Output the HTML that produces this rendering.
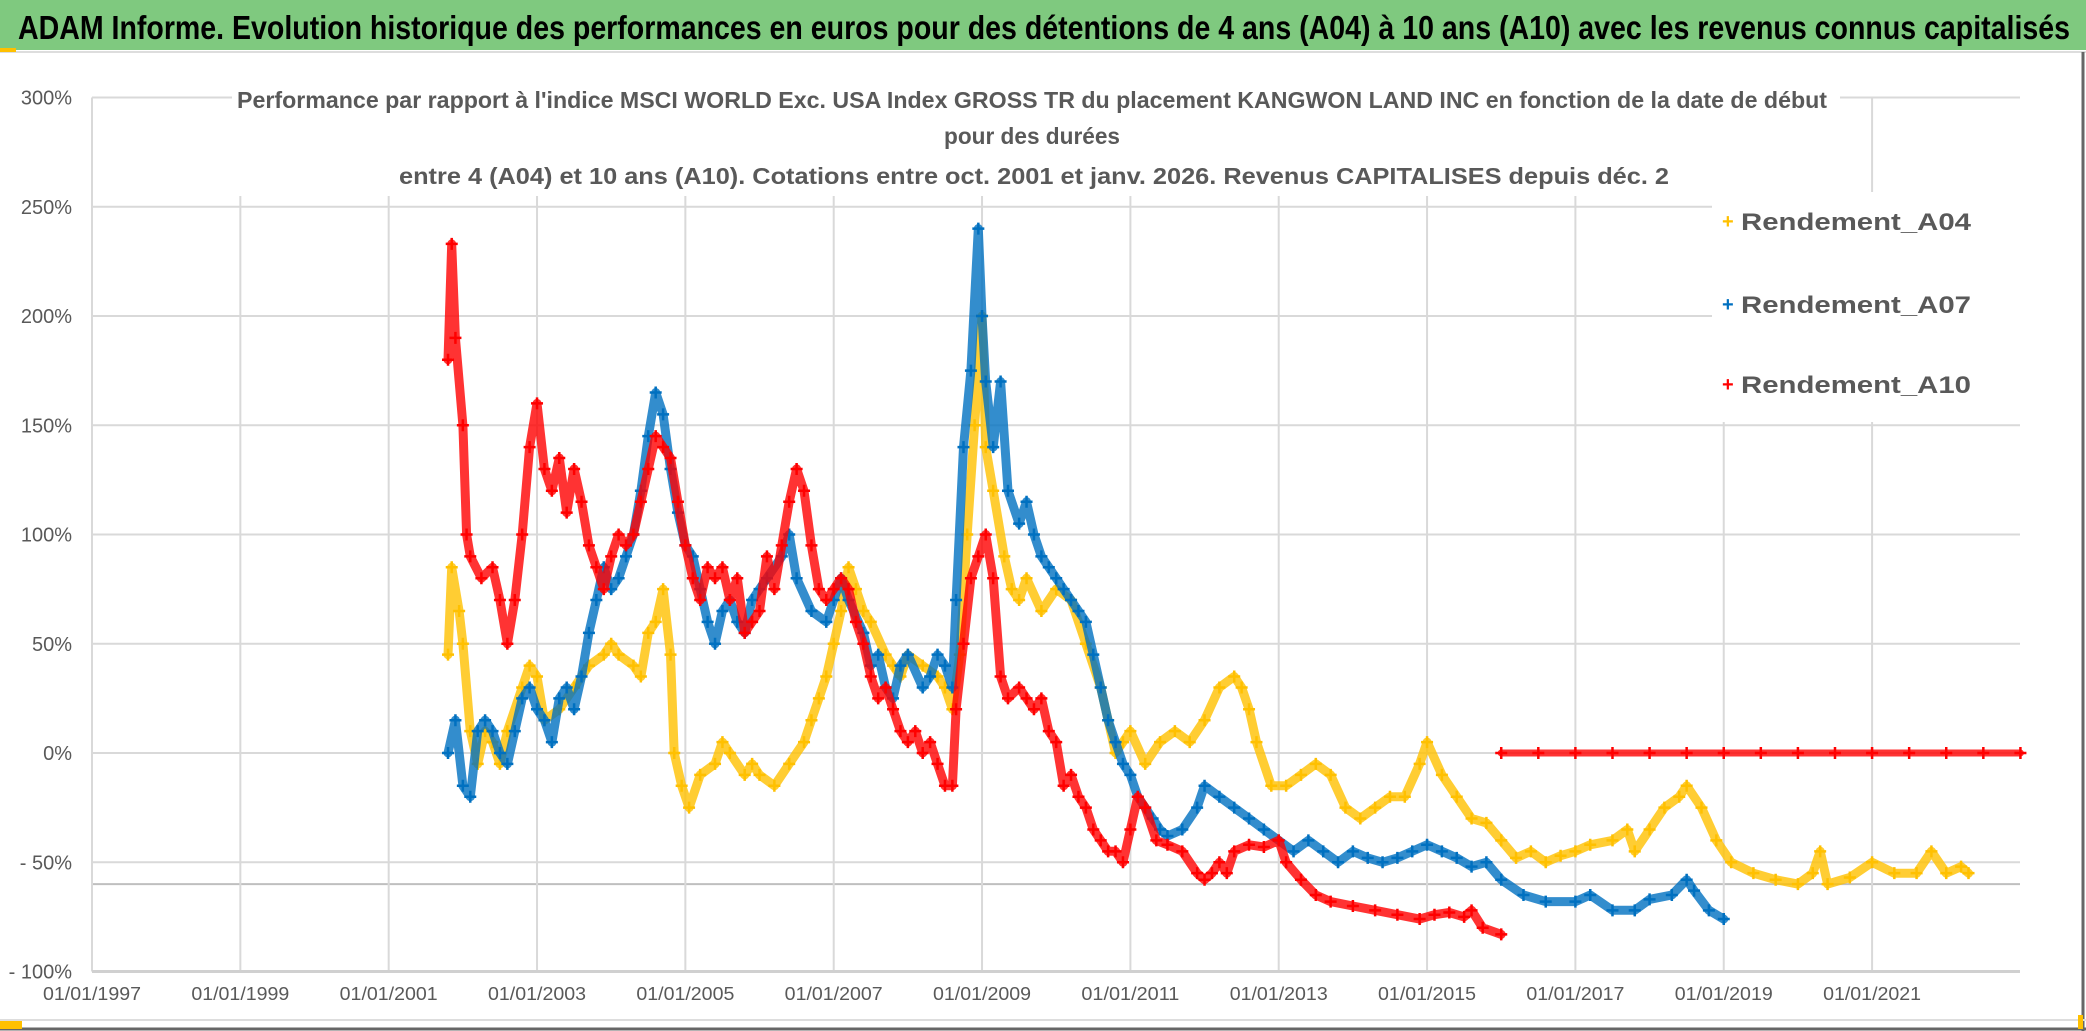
<!DOCTYPE html>
<html><head><meta charset="utf-8"><style>
html,body{margin:0;padding:0;background:#fff;}
svg{display:block;font-family:"Liberation Sans",sans-serif;}
</style></head><body>
<svg id="chart" width="2086" height="1031" viewBox="0 0 2086 1031">
<rect x="0" y="0" width="2086" height="1031" fill="#fff"/>
<rect x="0" y="0" width="2086" height="50" fill="#7FC97F"/>
<text x="18" y="39" font-size="33" font-weight="bold" fill="#000" textLength="2052" lengthAdjust="spacingAndGlyphs">ADAM Informe. Evolution historique des performances en euros pour des détentions de 4 ans (A04) à 10 ans (A10) avec les revenus connus capitalisés</text>
<line x1="0" y1="52" x2="2086" y2="52" stroke="#ddd" stroke-width="2"/>
<rect x="0" y="48" width="16" height="4" fill="#FFC000"/>
<g id="grid"></g>
<g id="yticks"></g>
<g id="xticks"></g>
<g id="series"></g>
<rect x="232" y="72" width="1608" height="124" fill="#fff"/>
<g fill="#595959" font-weight="bold" font-size="23" text-anchor="middle">
<text x="1032" y="108" textLength="1590" lengthAdjust="spacingAndGlyphs">Performance par rapport à l'indice MSCI WORLD Exc. USA Index GROSS TR  du placement KANGWON LAND INC en fonction de la date de début</text>
<text x="1032" y="144" textLength="176" lengthAdjust="spacingAndGlyphs">pour des durées</text>
<text x="1034" y="184" textLength="1270" lengthAdjust="spacingAndGlyphs">entre 4 (A04) et 10 ans (A10). Cotations entre oct. 2001 et janv. 2026. Revenus CAPITALISES depuis déc. 2</text>
</g>
<rect x="1712" y="192" width="310" height="230" fill="#fff"/>
<g font-size="24" fill="#595959" font-weight="bold">
<g><text x="1722" y="228" fill="#FFC000" font-size="20">+</text><text x="1741" y="230" textLength="230" lengthAdjust="spacingAndGlyphs">Rendement_A04</text></g>
<g><text x="1722" y="311" fill="#0070C0" font-size="20">+</text><text x="1741" y="313" textLength="230" lengthAdjust="spacingAndGlyphs">Rendement_A07</text></g>
<g><text x="1722" y="391" fill="#FF0000" font-size="20">+</text><text x="1741" y="393" textLength="230" lengthAdjust="spacingAndGlyphs">Rendement_A10</text></g>
</g>
<line x1="2083" y1="52" x2="2083" y2="1031" stroke="#666" stroke-width="3"/>
<line x1="0" y1="1029" x2="2086" y2="1029" stroke="#666" stroke-width="3"/>
<line x1="0" y1="1020" x2="2086" y2="1020" stroke="#ddd" stroke-width="2"/>
<rect x="0" y="1021" width="22" height="8" fill="#FFC000"/>
<rect x="2078" y="1015" width="5" height="14" fill="#FFC000"/>
</svg>
<script>
const yTicks=[300,250,200,150,100,50,0,-50,-100];
const xTickYears=[1997,1999,2001,2003,2005,2007,2009,2011,2013,2015,2017,2019,2021];
const a04Dates=[2001.8,2001.85,2001.95,2002.0,2002.1,2002.2,2002.3,2002.4,2002.5,2002.6,2002.8,2002.9,2003.0,2003.1,2003.3,2003.5,2003.7,2003.9,2004.0,2004.1,2004.3,2004.4,2004.5,2004.6,2004.7,2004.8,2004.85,2004.95,2005.05,2005.2,2005.4,2005.5,2005.6,2005.8,2005.9,2006.0,2006.2,2006.4,2006.6,2006.7,2006.8,2006.9,2007.0,2007.1,2007.2,2007.3,2007.4,2007.5,2007.7,2007.8,2007.9,2008.0,2008.2,2008.4,2008.5,2008.6,2008.7,2008.8,2008.9,2009.0,2009.05,2009.15,2009.3,2009.4,2009.5,2009.6,2009.8,2010.0,2010.2,2010.4,2010.6,2010.7,2010.8,2010.9,2011.0,2011.2,2011.4,2011.6,2011.8,2012.0,2012.2,2012.4,2012.5,2012.6,2012.7,2012.9,2013.1,2013.3,2013.5,2013.7,2013.9,2014.1,2014.3,2014.5,2014.7,2014.9,2015.0,2015.2,2015.4,2015.6,2015.8,2016.0,2016.2,2016.4,2016.6,2016.8,2017.0,2017.2,2017.5,2017.7,2017.8,2018.0,2018.2,2018.4,2018.5,2018.7,2018.9,2019.1,2019.4,2019.7,2020.0,2020.2,2020.3,2020.4,2020.7,2021.0,2021.3,2021.6,2021.8,2022.0,2022.2,2022.3];
const a04Values=[45,85,65,50,10,-5,10,5,-5,10,30,40,35,15,20,30,40,45,50,45,40,35,55,60,75,45,0,-15,-25,-10,-5,5,0,-10,-5,-10,-15,-5,5,15,25,35,50,65,85,75,65,60,45,40,35,45,40,35,30,20,45,100,150,200,140,120,90,75,70,80,65,75,70,50,30,15,0,5,10,-5,5,10,5,15,30,35,30,20,5,-15,-15,-10,-5,-10,-25,-30,-25,-20,-20,-5,5,-10,-20,-30,-32,-40,-48,-45,-50,-47,-45,-42,-40,-35,-45,-35,-25,-20,-15,-25,-40,-50,-55,-58,-60,-55,-45,-60,-57,-50,-55,-55,-45,-55,-52,-55];
const a07Dates=[2001.8,2001.9,2002.0,2002.1,2002.2,2002.3,2002.4,2002.5,2002.6,2002.7,2002.8,2002.9,2003.0,2003.1,2003.2,2003.3,2003.4,2003.5,2003.6,2003.7,2003.8,2003.9,2004.0,2004.1,2004.2,2004.3,2004.4,2004.5,2004.6,2004.7,2004.8,2004.9,2005.0,2005.1,2005.2,2005.3,2005.4,2005.5,2005.6,2005.7,2005.8,2005.9,2006.0,2006.1,2006.3,2006.4,2006.5,2006.7,2006.9,2007.0,2007.1,2007.2,2007.4,2007.5,2007.6,2007.7,2007.8,2007.9,2008.0,2008.2,2008.3,2008.4,2008.5,2008.6,2008.65,2008.75,2008.85,2008.95,2009.0,2009.05,2009.15,2009.25,2009.35,2009.5,2009.6,2009.7,2009.8,2009.9,2010.0,2010.1,2010.2,2010.3,2010.4,2010.5,2010.6,2010.7,2010.8,2010.9,2011.0,2011.1,2011.2,2011.3,2011.4,2011.5,2011.7,2011.9,2012.0,2012.2,2012.4,2012.6,2012.8,2013.0,2013.2,2013.4,2013.6,2013.8,2014.0,2014.2,2014.4,2014.6,2014.8,2015.0,2015.2,2015.4,2015.6,2015.8,2016.0,2016.3,2016.6,2017.0,2017.2,2017.5,2017.8,2018.0,2018.3,2018.5,2018.6,2018.8,2019.0];
const a07Values=[0,15,-15,-20,10,15,10,0,-5,10,25,30,20,15,5,25,30,20,35,55,70,85,75,80,90,100,120,145,165,155,130,110,95,90,75,60,50,65,70,60,55,70,75,80,90,100,80,65,60,70,80,70,55,40,45,30,25,40,45,30,35,45,40,30,70,140,175,240,200,170,140,170,120,105,115,100,90,85,80,75,70,65,60,45,30,15,5,-5,-10,-20,-25,-30,-35,-38,-35,-25,-15,-20,-25,-30,-35,-40,-45,-40,-45,-50,-45,-48,-50,-48,-45,-42,-45,-48,-52,-50,-58,-65,-68,-68,-65,-72,-72,-67,-65,-58,-63,-72,-76];
const a10Dates=[2001.8,2001.85,2001.9,2002.0,2002.05,2002.1,2002.25,2002.4,2002.5,2002.6,2002.7,2002.8,2002.9,2003.0,2003.1,2003.2,2003.3,2003.4,2003.5,2003.6,2003.7,2003.8,2003.9,2004.0,2004.1,2004.2,2004.3,2004.4,2004.5,2004.6,2004.7,2004.8,2004.9,2005.0,2005.1,2005.2,2005.3,2005.4,2005.5,2005.6,2005.7,2005.8,2005.9,2006.0,2006.1,2006.2,2006.3,2006.4,2006.5,2006.6,2006.7,2006.8,2006.9,2007.0,2007.1,2007.2,2007.3,2007.4,2007.5,2007.6,2007.7,2007.8,2007.9,2008.0,2008.1,2008.2,2008.3,2008.4,2008.5,2008.6,2008.65,2008.75,2008.85,2008.95,2009.05,2009.15,2009.25,2009.35,2009.5,2009.6,2009.7,2009.8,2009.9,2010.0,2010.1,2010.2,2010.3,2010.4,2010.5,2010.6,2010.7,2010.8,2010.9,2011.0,2011.1,2011.2,2011.35,2011.5,2011.7,2011.9,2012.0,2012.1,2012.2,2012.3,2012.4,2012.6,2012.8,2013.0,2013.1,2013.3,2013.5,2013.7,2014.0,2014.3,2014.6,2014.9,2015.1,2015.3,2015.5,2015.6,2015.75,2016.0];
const a10Values=[180,233,190,150,100,90,80,85,70,50,70,100,140,160,130,120,135,110,130,115,95,85,75,90,100,95,100,115,130,145,140,135,115,95,80,70,85,80,85,70,80,55,60,65,90,75,95,115,130,120,95,75,70,75,80,75,60,50,35,25,30,20,10,5,10,0,5,-5,-15,-15,20,50,80,90,100,80,35,25,30,25,20,25,10,5,-15,-10,-20,-25,-35,-40,-45,-45,-50,-35,-20,-25,-40,-42,-45,-55,-58,-55,-50,-55,-45,-42,-43,-40,-50,-58,-65,-68,-70,-72,-74,-76,-74,-73,-75,-72,-80,-83];
const a10TailDates=[2016.0,2016.5,2017.0,2017.5,2018.0,2018.5,2019.0,2019.5,2020.0,2020.5,2021.0,2021.5,2022.0,2022.5,2023.0];
const a10TailValues=[0,0,0,0,0,0,0,0,0,0,0,0,0,0,0];

const NS='http://www.w3.org/2000/svg';
const X0=92, PXY=74.17, Y0=753, PXV=2.185, XR=2020;
function xs(yr){return X0+(yr-1997)*PXY;}
function ys(v){return Y0-v*PXV;}
function mk(tag,attrs,parent){const e=document.createElementNS(NS,tag);for(const k in attrs)e.setAttribute(k,attrs[k]);parent.appendChild(e);return e;}
const grid=document.getElementById('grid'),yt=document.getElementById('yticks'),xt=document.getElementById('xticks'),ser=document.getElementById('series');
yTicks.forEach(v=>{
  const l=mk('line',{x1:X0,x2:XR,y1:ys(v),y2:ys(v),stroke:'#d9d9d9','stroke-width':2},grid);
  
  
  const t=mk('text',{x:72,y:ys(v)+7,'font-size':20,fill:'#595959','text-anchor':'end'},yt);
  t.textContent=(v<0?'- '+(-v):v)+'%';
  
  
});
const ref=mk('line',{x1:X0,x2:XR,y1:ys(-60),y2:ys(-60),stroke:'#bfbfbf','stroke-width':2},grid);


xTickYears.forEach(yr=>{
  const l=mk('line',{x1:xs(yr),x2:xs(yr),y1:ys(300),y2:ys(-100),stroke:'#d9d9d9','stroke-width':2},grid);
  
  
  const t=mk('text',{x:xs(yr),y:1000,'font-size':18,fill:'#595959','text-anchor':'middle',textLength:98,lengthAdjust:'spacingAndGlyphs'},xt);
  t.textContent='01/01/'+yr;
  
  
});
mk('line',{x1:X0,x2:XR,y1:ys(-100),y2:ys(-100),stroke:'#d0d0d0','stroke-width':3},grid);
function drawSeries(dates,vals,color,name,band){
  const g=mk('g',{},ser);
  
  
  let d='';
  dates.forEach((yr,i)=>{d+=(i?'L':'M')+xs(yr).toFixed(1)+','+ys(vals[i]).toFixed(1);});
  const p=mk('path',{d:d,fill:'none',stroke:color,'stroke-width':band,'stroke-linejoin':'round','stroke-linecap':'round','stroke-opacity':0.8},g);
  
  
  dates.forEach((yr,i)=>{
    const x=xs(yr),y=ys(vals[i]);
    const m=mk('path',{d:`M${x-6},${y}h12M${x},${y-6}v12`,stroke:color,'stroke-width':2.5},g);
    
    
  });
}
drawSeries(a04Dates,a04Values,'#FFC000','series-a04',9);
drawSeries(a07Dates,a07Values,'#0070C0','series-a07',9);
drawSeries(a10Dates,a10Values,'#FF0000','series-a10',9);
drawSeries(a10TailDates,a10TailValues,'#FF0000','series-a10-tail',7);
</script>
</body></html>
